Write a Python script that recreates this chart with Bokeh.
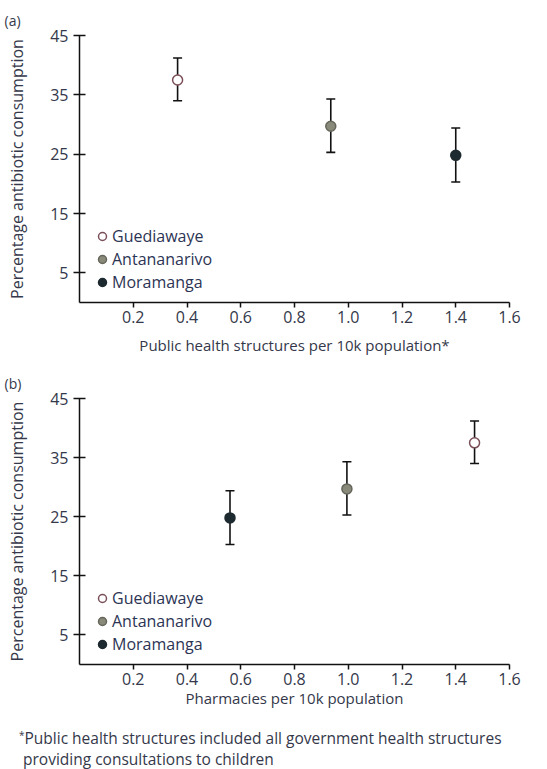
from bokeh.plotting import figure
from bokeh.models import (Range1d, Whisker, TeeHead, ColumnDataSource, Legend,
                          LegendItem, FixedTicker, NumeralTickFormatter, Div, Title)
from bokeh.layouts import column
from bokeh.embed import file_html
from bokeh.resources import INLINE

sites = ["Guediawaye", "Antananarivo", "Moramanga"]
public_health = [0.365, 0.935, 1.40]
pharmacies = [1.47, 0.995, 0.56]
consumption = [37.5, 29.7, 24.8]
ci_lower = [34.0, 25.3, 20.3]
ci_upper = [41.2, 34.3, 29.4]

x_ticks = [0.2, 0.4, 0.6, 0.8, 1.0, 1.2, 1.4, 1.6]
y_ticks = [5, 15, 25, 35, 45]

fill_colors = ["#ffffff", "#8a8a7a", "#1d2a30"]
line_colors = ["#7a4f58", "#66665c", "#1d2a30"]

FONT = "Open Sans"
TXT = "#34384a"
LEG = "#2c3454"


def make_panel(xvals, xlabel, panel_label, height, border_top, border_bottom,
               title_standoff, label_standoff):
    p = figure(width=547, height=height, output_backend="svg", toolbar_location=None,
               x_range=Range1d(0, 1.6), y_range=Range1d(0, 45),
               min_border_left=79, min_border_right=38,
               min_border_top=border_top, min_border_bottom=border_bottom)
    p.outline_line_color = None
    p.xgrid.visible = False
    p.ygrid.visible = False

    p.title = Title(text=panel_label, align="left", offset=-75, standoff=label_standoff,
                    text_font=FONT, text_font_size="14px", text_font_style="normal",
                    text_color=TXT)

    xa = p.xaxis[0]
    xa.ticker = FixedTicker(ticks=x_ticks)
    xa.formatter = NumeralTickFormatter(format="0.0")
    xa.minor_tick_line_color = None
    xa.major_tick_in = 0
    xa.major_tick_out = 5
    xa.axis_line_width = 1.5
    xa.major_tick_line_width = 1.5
    xa.axis_line_color = "#111111"
    xa.major_tick_line_color = "#111111"
    xa.major_label_text_font = FONT
    xa.major_label_text_font_size = "16px"
    xa.major_label_text_color = TXT
    xa.major_label_standoff = 3
    xa.axis_label = xlabel
    xa.axis_label_text_font = FONT
    xa.axis_label_text_font_size = "15px"
    xa.axis_label_text_font_style = "normal"
    xa.axis_label_text_color = TXT
    xa.axis_label_standoff = title_standoff

    ya = p.yaxis[0]
    ya.ticker = FixedTicker(ticks=y_ticks)
    ya.minor_tick_line_color = None
    ya.major_tick_in = 6
    ya.major_tick_out = 6
    ya.axis_line_width = 1.5
    ya.major_tick_line_width = 1.5
    ya.axis_line_color = "#111111"
    ya.major_tick_line_color = "#111111"
    ya.major_label_text_font = FONT
    ya.major_label_text_font_size = "16px"
    ya.major_label_text_color = TXT
    ya.major_label_standoff = 5
    ya.axis_label = "Percentage antibiotic consumption"
    ya.axis_label_text_font = FONT
    ya.axis_label_text_font_size = "16px"
    ya.axis_label_text_font_style = "normal"
    ya.axis_label_text_color = TXT
    ya.axis_label_standoff = 19

    src = ColumnDataSource(dict(x=xvals, y=consumption, lo=ci_lower, hi=ci_upper))
    w = Whisker(base="x", upper="hi", lower="lo", source=src, dimension="height",
                line_color="#111111", line_width=1.6,
                upper_head=TeeHead(size=9, line_width=1.6, line_color="#111111"),
                lower_head=TeeHead(size=9, line_width=1.6, line_color="#111111"))
    w.level = "underlay"
    p.add_layout(w)

    items = []
    for i, s in enumerate(sites):
        r = p.scatter(x=[xvals[i]], y=[consumption[i]], size=10,
                      fill_color=fill_colors[i], line_color=line_colors[i], line_width=1.5)
        items.append(LegendItem(label=s, renderers=[r]))

    leg = Legend(items=items, location=(13, 9), orientation="vertical",
                 background_fill_alpha=0, border_line_color=None,
                 label_text_font=FONT, label_text_font_size="16px",
                 label_text_color=LEG, glyph_width=20, glyph_height=20,
                 label_height=20, spacing=1, padding=0, margin=0, label_standoff=0)
    p.add_layout(leg)
    return p


p1 = make_panel(public_health, "Public health structures per 10k population*", "(a)",
                362, 35, 60, 9, 11)
p2 = make_panel(pharmacies, "Pharmacies per 10k population", "(b)",
                360, 36, 58, 0, 11)

note = Div(text="<span style='position:relative; top:-5px; font-size:10px'>*</span>"
                "Public health structures included all government health structures"
                "<br>&nbsp;providing consultations to children",
           width=547, height=47,
           styles={"font-family": "Open Sans", "font-size": "15.5px", "line-height": "19px",
                   "color": TXT, "padding-left": "19px", "padding-top": "7px",
                   "margin": "0", "box-sizing": "border-box"})

layout = column(p1, p2, note, spacing=0)
open("out.html", "w").write(file_html(layout, INLINE))
